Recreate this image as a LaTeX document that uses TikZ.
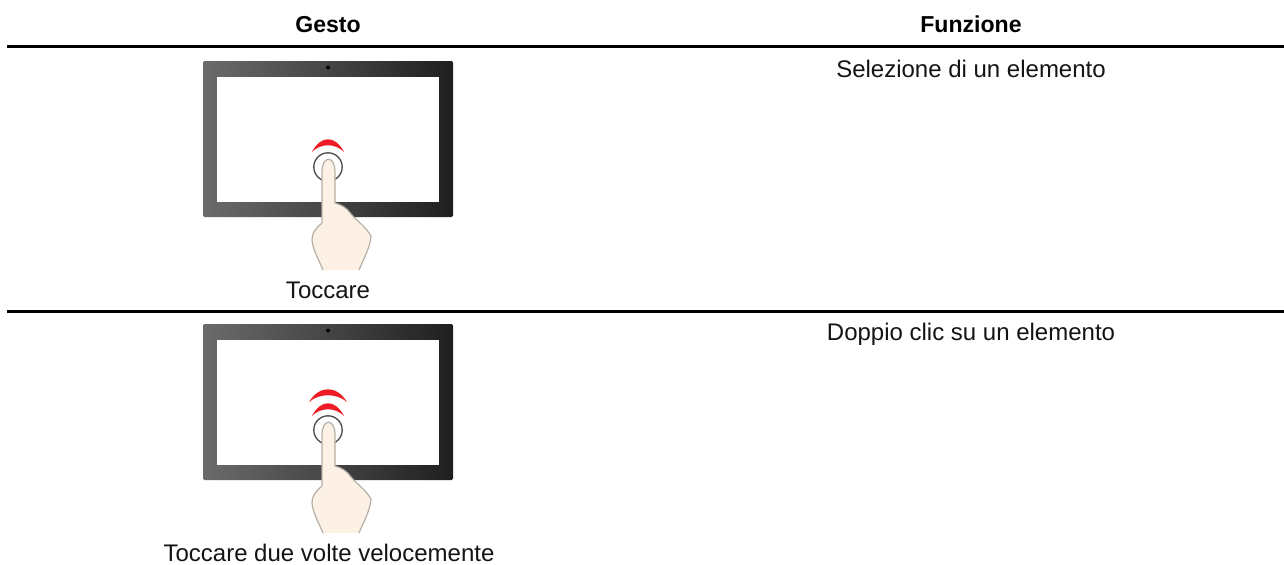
\documentclass[tikz,border=0pt]{standalone}
\usepackage{fontspec}
\setmainfont{Liberation Sans}
\definecolor{skin}{HTML}{FDF0E4}
\definecolor{skinedge}{HTML}{B5B0A6}
\definecolor{tapred}{HTML}{ED1C24}
\tikzset{
  x=0.75pt,y=-0.75pt,
  rowrule/.style={line width=2.4pt,black},
  txt/.style={font=\fontsize{18pt}{20pt}\selectfont,inner sep=0pt,anchor=base,text=black!92},
  head/.style={txt,text=black,font=\fontsize{17.3pt}{20pt}\selectfont\bfseries},
  handline/.style={draw=skinedge,line width=0.9pt,line join=round},
  pics/device/.style={code={
    \shade[left color=black!58,right color=black!88,rounded corners=1pt] (203,61) rectangle (453,217);
    \fill[white] (217,77) rectangle (439,202);
    \fill[black] (328,67.5) circle (2);
    \draw[black!70,line width=1pt] (328,167) circle (14.2);
    \fill[skin] (323,270) .. controls (318,258) and (313,250) .. (312,240)
      .. controls (312,233) and (315,229) .. (322,223)
      -- (322,172)
      .. controls (322,155) and (335,155) .. (335,172)
      -- (335,203)
      .. controls (342,205) and (347,208) .. (351,214)
      .. controls (358,222) and (365,226) .. (371,236)
      .. controls (370,248) and (364,258) .. (359,270) -- cycle;
    \draw[handline] (323,270) .. controls (318,258) and (313,250) .. (312,240)
      .. controls (312,233) and (315,229) .. (322,223)
      -- (322,172)
      .. controls (322,155) and (335,155) .. (335,172)
      -- (335,203)
      .. controls (342,205) and (347,208) .. (351,214)
      .. controls (358,222) and (365,226) .. (371,236)
      .. controls (370,248) and (364,258) .. (359,270);
  }},
  pics/tapwave/.style args={#1/#2}{code={
    % #1 half width, #2 height of the tips
    \fill[tapred] (328-#1,#2) .. controls (328-#1*0.45,#2-17) and (328+#1*0.45,#2-17) .. (328+#1,#2)
       .. controls (328+#1*0.45,#2-9) and (328-#1*0.45,#2-9) .. cycle;
  }}
}
\begin{document}
\begin{tikzpicture}
\useasboundingbox (0,0) rectangle (1284,564);
\fill[white] (0,0) rectangle (1284,564);
\node[head] (h1) at (328,32) {Gesto};
\node[head] (h2) at (971,32) {Funzione};
\coordinate (r1a) at (7,46.5);
\coordinate (r1b) at (1284,46.5);
\draw[rowrule] (r1a) -- (r1b);
\pic {device};
\pic {tapwave=16/152};
\node[txt] (t1) at (328,298) {Toccare};
\node[txt] (f1) at (971,77) {Selezione di un elemento};
\coordinate (r2a) at (7,311.5);
\coordinate (r2b) at (1284,311.5);
\draw[rowrule] (r2a) -- (r2b);
\begin{scope}[yshift=-263*0.75pt]
\pic {device};
\pic {tapwave=16/153};
\pic {tapwave=19/139};
\end{scope}
\node[txt] (t2) at (329,561) {Toccare due volte velocemente};
\node[txt] (f2) at (971,340) {Doppio clic su un elemento};
\end{tikzpicture}
\end{document}
